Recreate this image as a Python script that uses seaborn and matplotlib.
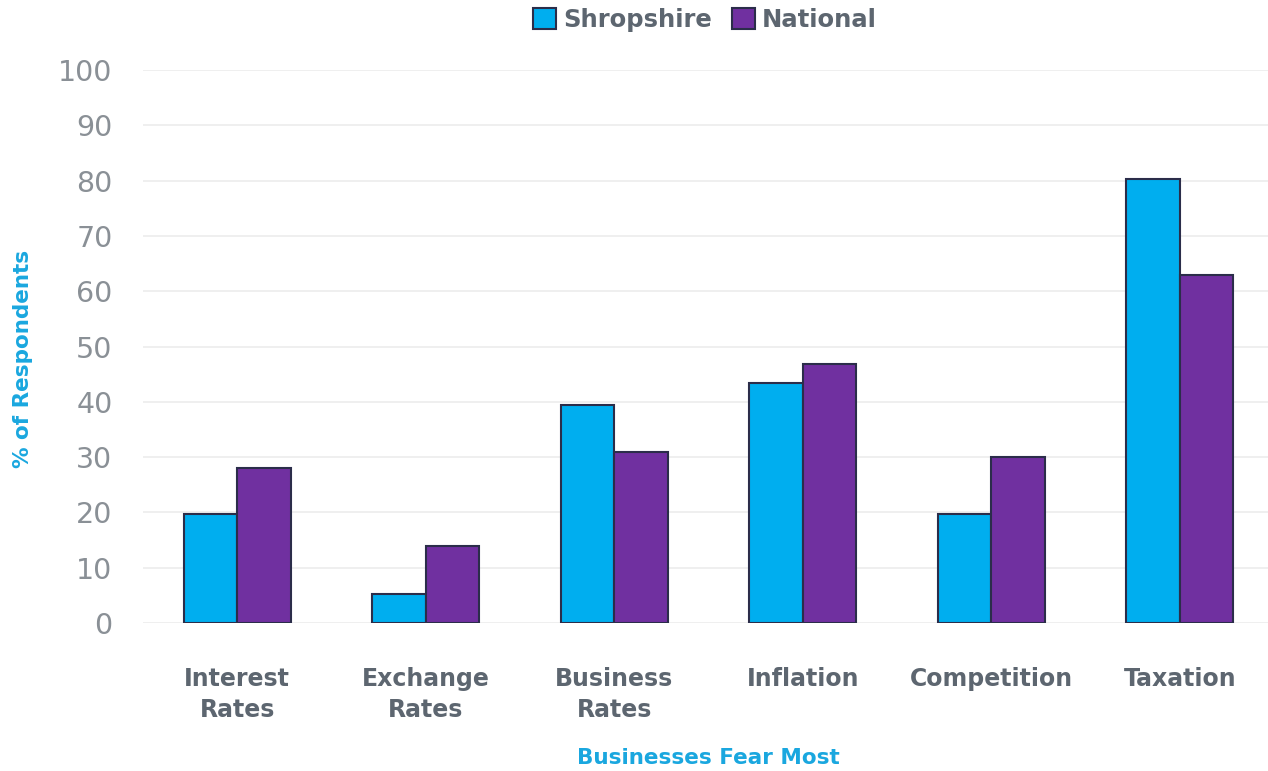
import matplotlib as mpl
import matplotlib.pyplot as plt
from matplotlib.patches import Patch
import seaborn as sns
import pandas as pd

categories = ["Interest\nRates", "Exchange\nRates", "Business\nRates", "Inflation", "Competition", "Taxation"]
shropshire = [19.7, 5.2, 39.4, 43.4, 19.7, 80.2]
national = [28.0, 14.0, 30.9, 46.9, 30.0, 62.9]
series = ["Shropshire", "National"]
colors = ["#00AEEF", "#7030A0"]

df = pd.DataFrame({
    "category": categories * 2,
    "series": [series[0]] * len(categories) + [series[1]] * len(categories),
    "value": shropshire + national,
})

sns.set_style("white")
plt.rcParams['font.family'] = ['DejaVu Sans']

TICK_GREY = "#8a9096"
DARK_GREY = "#5d6670"
CYAN = "#1aa7df"
EDGE = "#2b2d4a"

fig = plt.figure(figsize=(12.68, 7.71), dpi=100)
ax = fig.add_axes([143 / 1268, 1 - 623 / 771, 1131 / 1268, 553 / 771])

sns.barplot(data=df, x="category", y="value", hue="series", palette=colors,
            width=0.57, edgecolor=EDGE, linewidth=1.5, saturation=1, ax=ax, legend=False)

ax.set_xlim(-0.5, 5.5)
ax.set_ylim(0, 100)
ax.set_yticks(range(0, 101, 10))
ax.yaxis.grid(True, color="#ececec", linewidth=1.2)
ax.set_axisbelow(True)
for s in ax.spines.values():
    s.set_visible(False)

ax.tick_params(axis="y", length=0, pad=22, labelsize=20.5, labelcolor=TICK_GREY)
ax.tick_params(axis="x", length=0, pad=32, labelsize=17, labelcolor=DARK_GREY)
for lbl in ax.get_xticklabels():
    lbl.set_fontweight("bold")
    lbl.set_linespacing(1.35)

ax.set_xlabel("Businesses Fear Most", color=CYAN, fontsize=15.5, fontweight="bold", labelpad=19)
ax.set_ylabel("% of Respondents", color=CYAN, fontsize=15.5, fontweight="bold")
ax.yaxis.set_label_coords(-0.097, 0.478)

handles = [Patch(facecolor=c, edgecolor=EDGE, linewidth=1.5) for c in colors]
leg = fig.legend(handles, series, loc="upper center", bbox_to_anchor=(0.556, 1.018), ncol=2,
                 frameon=False, handlelength=0.95, handleheight=0.95, handletextpad=0.3,
                 columnspacing=0.8, prop={"size": 17.5, "weight": "bold"})
for t in leg.get_texts():
    t.set_color(DARK_GREY)

plt.savefig("out.png", dpi=100)
